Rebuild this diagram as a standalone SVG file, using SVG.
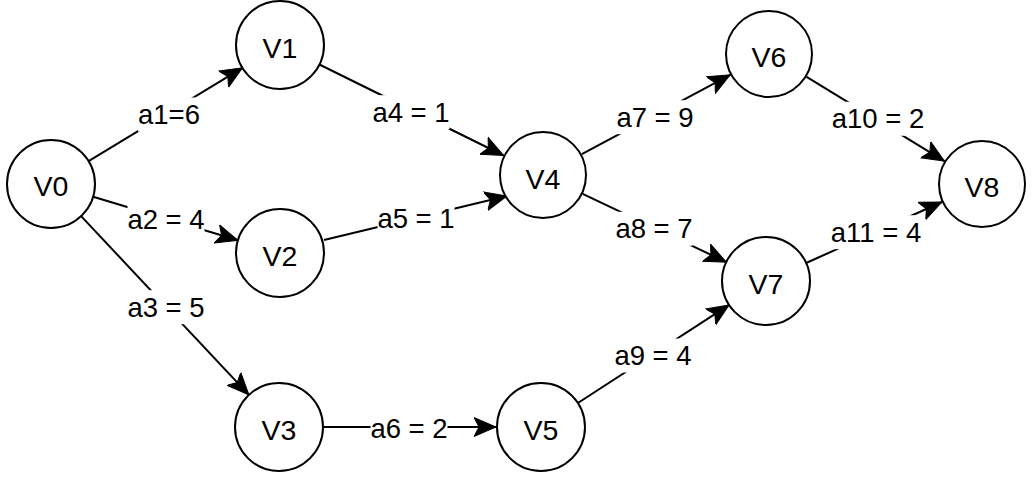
<svg xmlns="http://www.w3.org/2000/svg" width="1033" height="478" viewBox="0 0 1033 478">
<style>
.node{fill:#ffffff;stroke:#000000;stroke-width:2}
.nt{font-family:"Liberation Sans",Arial,sans-serif;font-size:28.5px;fill:#000000;text-anchor:middle}
.edge{stroke:#000000;stroke-width:2;fill:none;marker-end:url(#arr)}
.lt{font-family:"Liberation Sans",Arial,sans-serif;font-size:27.5px;fill:#000000;text-anchor:middle}
.lb{fill:#ffffff;stroke:none}
</style>
<defs>
<marker id="arr" markerUnits="userSpaceOnUse" markerWidth="24" markerHeight="22" viewBox="0 0 24 22" refX="22" refY="11" orient="auto">
<path d="M0,1.5 L22,11 L0,20.5 L5,11 Z" fill="#000000" stroke="#000000" stroke-width="1" stroke-linejoin="miter"/>
</marker>
</defs>
<rect width="1033" height="478" fill="#ffffff"/>
<g id="connectors">
<line class="edge" x1="88.6" y1="161.2" x2="242.4" y2="67.8"/>
<line class="edge" x1="93.1" y1="196.7" x2="237.9" y2="240.3"/>
<line class="edge" x1="81.1" y1="216.1" x2="248.9" y2="394.9"/>
<line class="edge" x1="319.4" y1="64.5" x2="503.6" y2="155.5"/>
<line class="edge" x1="324" y1="240" x2="507" y2="196"/>
<line class="edge" x1="323" y1="427" x2="496" y2="427"/>
<line class="edge" x1="581.8" y1="154.2" x2="730.2" y2="74.8"/>
<line class="edge" x1="582.7" y1="193.9" x2="726.3" y2="262.1"/>
<line class="edge" x1="577.9" y1="403" x2="729.1" y2="304.9"/>
<line class="edge" x1="806.6" y1="76.9" x2="944.4" y2="161.1"/>
<line class="edge" x1="806.1" y1="263" x2="941.9" y2="202"/>
<g id="labels">
<rect class="lb" x="138" y="97.5" width="62" height="34"/>
<text class="lt" x="169" y="124">a1=6</text>
<rect class="lb" x="127.5" y="202.8" width="77" height="34"/>
<text class="lt" x="166" y="229.3">a2 = 4</text>
<rect class="lb" x="127.5" y="290.2" width="77" height="34"/>
<text class="lt" x="166" y="316.7">a3 = 5</text>
<rect class="lb" x="372.5" y="95.2" width="77" height="34"/>
<text class="lt" x="411" y="121.7">a4 = 1</text>
<rect class="lb" x="377.5" y="201.8" width="77" height="34"/>
<text class="lt" x="416" y="228.3">a5 = 1</text>
<rect class="lb" x="370.5" y="411.8" width="77" height="34"/>
<text class="lt" x="409" y="438.3">a6 = 2</text>
<rect class="lb" x="616.5" y="100.2" width="77" height="34"/>
<text class="lt" x="655" y="126.7">a7 = 9</text>
<rect class="lb" x="615.5" y="211.8" width="77" height="34"/>
<text class="lt" x="654" y="238.3">a8 = 7</text>
<rect class="lb" x="614.5" y="338.5" width="77" height="34"/>
<text class="lt" x="653" y="365">a9 = 4</text>
<rect class="lb" x="832" y="101.8" width="92" height="34"/>
<text class="lt" x="878" y="128.3">a10 = 2</text>
<rect class="lb" x="830" y="215.2" width="92" height="34"/>
<text class="lt" x="876" y="241.7">a11 = 4</text>
</g>
</g>
<g id="V0"><circle class="node" cx="51" cy="184" r="44"/><text class="nt" x="51" y="196">V0</text></g>
<g id="V1"><circle class="node" cx="280" cy="45" r="44"/><text class="nt" x="280" y="58">V1</text></g>
<g id="V2"><circle class="node" cx="280" cy="253" r="44"/><text class="nt" x="280" y="266">V2</text></g>
<g id="V3"><circle class="node" cx="279" cy="427" r="44"/><text class="nt" x="279" y="440">V3</text></g>
<g id="V4"><circle class="node" cx="543" cy="175" r="43"/><text class="nt" x="543" y="189">V4</text></g>
<g id="V5"><circle class="node" cx="541" cy="427" r="44"/><text class="nt" x="541" y="440">V5</text></g>
<g id="V6"><circle class="node" cx="769" cy="54" r="43"/><text class="nt" x="769" y="67">V6</text></g>
<g id="V7"><circle class="node" cx="766" cy="281" r="44"/><text class="nt" x="766" y="294">V7</text></g>
<g id="V8"><circle class="node" cx="982" cy="184" r="43"/><text class="nt" x="982" y="197">V8</text></g>
</svg>
